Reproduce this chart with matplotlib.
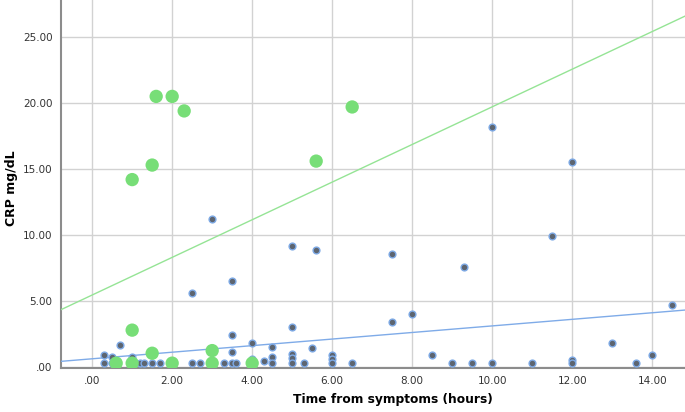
import numpy as np
import matplotlib
matplotlib.use("Agg")
import matplotlib.pyplot as plt
from matplotlib.ticker import FuncFormatter

# Group 1 (blue/grey small markers)
blue_x = [0.3, 0.3, 0.5, 0.5, 0.7, 1.0, 1.0, 1.2, 1.3, 1.5, 1.7, 2.5, 2.5, 2.7, 3.0,
          3.3, 3.5, 3.6, 3.5, 3.5, 3.5, 4.0, 4.0, 4.0, 4.3, 4.5, 4.5, 4.5, 5.0, 5.0,
          5.0, 5.0, 5.0, 5.3, 5.5, 5.6, 6.0, 6.0, 6.0, 6.5, 7.5, 7.5, 8.0, 8.5, 9.0,
          9.3, 9.5, 10.0, 10.0, 11.0, 11.5, 12.0, 12.0, 12.0, 13.0, 13.6, 14.0, 14.5]
blue_y = [0.95, 0.3, 0.8, 0.3, 1.65, 0.8, 0.3, 0.3, 0.3, 0.3, 0.3, 0.3, 5.6, 0.3, 11.2,
          0.3, 0.3, 0.3, 1.15, 2.45, 6.55, 1.8, 0.6, 0.3, 0.45, 1.55, 0.75, 0.3, 3.05, 1.0,
          0.7, 0.3, 9.2, 0.3, 1.45, 8.85, 0.9, 0.6, 0.3, 0.3, 3.45, 8.6, 4.05, 0.95, 0.3,
          7.55, 0.3, 0.3, 18.2, 0.3, 9.95, 0.55, 0.3, 15.5, 1.8, 0.3, 0.95, 4.7]

# Group 2 (green large markers)
green_x = [0.6, 1.0, 1.0, 1.0, 1.5, 1.5, 1.6, 2.0, 2.0, 2.3, 3.0, 3.0, 4.0, 5.6, 6.5]
green_y = [0.3, 0.3, 2.8, 14.2, 1.05, 15.3, 20.5, 0.3, 20.5, 19.4, 1.25, 0.3, 0.3, 15.6, 19.7]

# Linear fit lines: (intercept, slope)
blue_fit = (0.63, 0.249)
green_fit = (5.46, 1.425)

x_ticks = [0, 2, 4, 6, 8, 10, 12, 14]
y_ticks = [0, 5, 10, 15, 20, 25]
x_label = "Time from symptoms (hours)"
y_label = "CRP mg/dL"

fig = plt.figure(figsize=(6.85, 4.12), dpi=100)
ax = fig.add_axes([0.089, 0.108, 0.911, 0.892])

xlim = (-0.78, 14.82)
ylim = (-0.03, 27.8)
ax.set_xlim(*xlim)
ax.set_ylim(*ylim)

xs = np.array(xlim)
ax.plot(xs, blue_fit[0] + blue_fit[1] * xs, color="#7fabe8", lw=1.0, zorder=3)
ax.plot(xs, green_fit[0] + green_fit[1] * xs, color="#95e495", lw=1.0, zorder=3)

ax.scatter(blue_x, blue_y, s=24, facecolor="#5d6570", edgecolor="#7eaae6",
           linewidths=1.0, zorder=4)
ax.scatter(green_x, green_y, s=92, facecolor="#77de77", edgecolor="none", zorder=5)

ax.set_xticks(x_ticks)
ax.set_yticks(y_ticks)

def fmt(v, pos):
    v = round(float(v), 2) + 0.0
    if abs(v) < 1e-9:
        v = 0.0
    s = f"{v:.2f}"
    if s.startswith("0."):
        s = s[1:]
    return s

ax.xaxis.set_major_formatter(FuncFormatter(fmt))
ax.yaxis.set_major_formatter(FuncFormatter(fmt))
ax.tick_params(length=0, labelsize=7.5, colors="#333333", pad=6)

ax.grid(True, color="#d2d2d2", lw=1.0, zorder=0)
ax.set_axisbelow(True)
for sp in ["top", "right"]:
    ax.spines[sp].set_visible(False)
for sp in ["left", "bottom"]:
    ax.spines[sp].set_color("#8c8c8c")
    ax.spines[sp].set_linewidth(1.5)

ax.set_xlabel(x_label, fontsize=8.8, fontweight="bold")
ax.set_ylabel(y_label, fontsize=9, fontweight="bold")
ax.xaxis.set_label_coords(0.532, -0.088, transform=ax.transAxes)
ax.yaxis.set_label_coords(-0.080, 0.488, transform=ax.transAxes)
ax.xaxis.label.set_va("center")
ax.yaxis.label.set_va("center")

fig.savefig("out.png", dpi=100)
